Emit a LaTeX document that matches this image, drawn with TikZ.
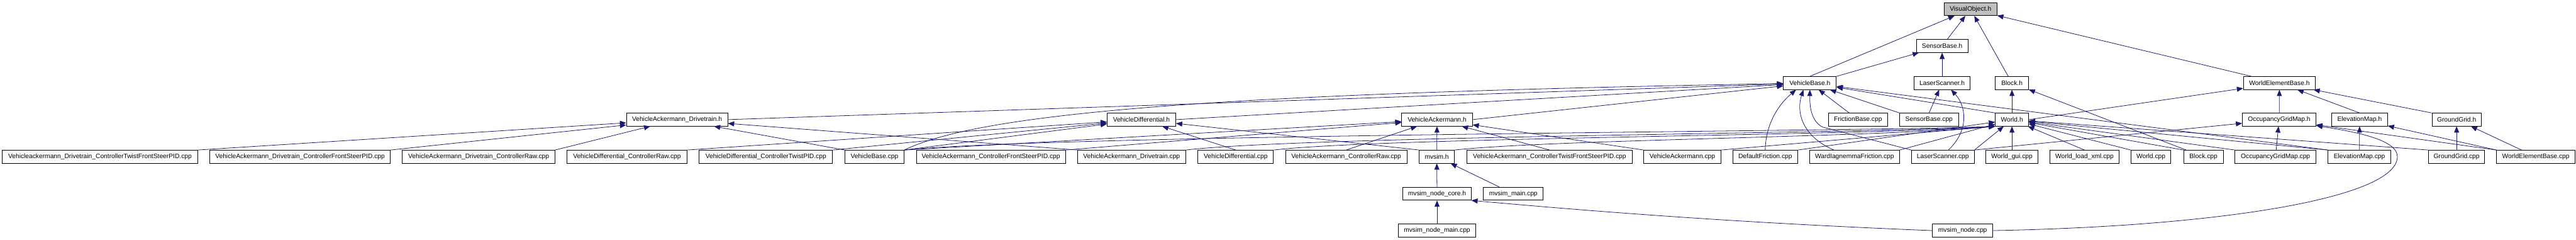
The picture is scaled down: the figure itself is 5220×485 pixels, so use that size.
\documentclass[tikz,border=0pt]{standalone}
\usepackage{fontspec}
\setmainfont{Liberation Sans}
\usepackage{xcolor}
\usepackage{tikz}
\usetikzlibrary{positioning, arrows.meta, calc}
\definecolor{edgeblue}{HTML}{191970}
\definecolor{curgray}{HTML}{BFBFBF}

\tikzset{
  file/.style={draw=black, fill=white, line width=0.8pt, inner sep=0pt,
    minimum height=19.5pt, font=\fontsize{9.8}{12}\selectfont},
  bw/.style={minimum width=#1*0.75pt},
  inc/.style={draw=edgeblue, line width=0.75pt,
    -{Triangle[length=9.5pt, width=7.5pt]}}
}

\begin{document}
\begin{tikzpicture}[x=0.75pt, y=-0.75pt]
  \useasboundingbox (0,0) rectangle (5220,485);

  \node[file, fill=curgray, bw=107] (vo) at (3993,18.5) {VisualObject.h};
  \node[file, bw=105] (sb) at (3935.5,93) {SensorBase.h};

  \node[file, bw=107] (vb) at (3667.5,168) {VehicleBase.h};
  \node[file, bw=113] (ls) at (3935.5,168) {LaserScanner.h};
  \node[file, bw=67] (blk) at (4077,168) {Block.h};
  \node[file, bw=146] (web) at (4619,168) {WorldElementBase.h};

  \node[file, bw=205] (vad) at (1372,242) {VehicleAckermann\_Drivetrain.h};
  \node[file, bw=139] (vd) at (2313,242) {VehicleDifferential.h};
  \node[file, bw=143] (va) at (2912,242) {VehicleAckermann.h};
  \node[file, bw=120] (fbc) at (3765,242) {FrictionBase.cpp};
  \node[file, bw=119] (sbc) at (3909,242) {SensorBase.cpp};
  \node[file, bw=67] (wh) at (4077,242) {World.h};
  \node[file, bw=149] (ogm) at (4618.5,242) {OccupancyGridMap.h};
  \node[file, bw=113] (em) at (4781.5,242) {ElevationMap.h};
  \node[file, bw=100] (gg) at (4978,242) {GroundGrid.h};

  \node[file, bw=396] (c1) at (202.6,317) {Vehicleackermann\_Drivetrain\_ControllerTwistFrontSteerPID.cpp};
  \node[file, bw=366] (c2) at (608,317) {VehicleAckermann\_Drivetrain\_ControllerFrontSteerPID.cpp};
  \node[file, bw=309] (c3) at (970,317) {VehicleAckermann\_Drivetrain\_ControllerRaw.cpp};
  \node[file, bw=243] (c4) at (1270.5,317) {VehicleDifferential\_ControllerRaw.cpp};
  \node[file, bw=270] (c5) at (1552,317) {VehicleDifferential\_ControllerTwistPID.cpp};
  \node[file, bw=120] (c6) at (1772,317) {VehicleBase.cpp};
  \node[file, bw=302] (c7) at (2008,317) {VehicleAckermann\_ControllerFrontSteerPID.cpp};
  \node[file, bw=219] (c8) at (2293,317) {VehicleAckermann\_Drivetrain.cpp};
  \node[file, bw=153] (c9) at (2504,317) {VehicleDifferential.cpp};
  \node[file, bw=246] (c10) at (2728,317) {VehicleAckermann\_ControllerRaw.cpp};
  \node[file, bw=71] (mv) at (2911.5,317) {mvsim.h};
  \node[file, bw=335] (c11) at (3140,317) {VehicleAckermann\_ControllerTwistFrontSteerPID.cpp};
  \node[file, bw=156] (c12) at (3409,317) {VehicleAckermann.cpp};
  \node[file, bw=132] (c13) at (3577,317) {DefaultFriction.cpp};
  \node[file, bw=182] (c14) at (3758,317) {WardIagnemmaFriction.cpp};
  \node[file, bw=127] (c15) at (3937,317) {LaserScanner.cpp};
  \node[file, bw=106] (c16) at (4077,317) {World\_gui.cpp};
  \node[file, bw=140] (c17) at (4224,317) {World\_load\_xml.cpp};
  \node[file, bw=81] (c18) at (4358.5,317) {World.cpp};
  \node[file, bw=80] (c19) at (4465,317) {Block.cpp};
  \node[file, bw=164] (c20) at (4611,317) {OccupancyGridMap.cpp};
  \node[file, bw=127] (c21) at (4781,317) {ElevationMap.cpp};
  \node[file, bw=114] (c22) at (4978,317) {GroundGrid.cpp};
  \node[file, bw=159] (c23) at (5138.5,317) {WorldElementBase.cpp};

  \node[file, bw=138] (nc) at (2912,392) {mvsim\_node\_core.h};
  \node[file, bw=121] (mm) at (3066.5,392) {mvsim\_main.cpp};
  \node[file, bw=156] (nm) at (2912,466.5) {mvsim\_node\_main.cpp};
  \node[file, bw=122] (nd) at (3977,466.5) {mvsim\_node.cpp};

  % VisualObject.h and the headers above the vehicles
  \draw[inc] (vb.north) -- (vo);
  \foreach \s in {sb, blk, web} \draw[inc] (\s) -- (vo);
  \draw[inc] (vb.north east) -- (sb);
  \draw[inc] (ls) -- (sb);

  \foreach \s in {vad, vd, va} \draw[inc] (\s.east) -- (vb);
  \draw[inc] (c6.north east) .. controls (2000,222) and (2550,188) .. (vb);
  \draw[inc] (fbc) -- (vb);
  \draw[inc] (sbc.north west) -- (vb);
  \draw[inc] (wh.north west) -- (vb);
  \draw[inc] (c21.north west) -- (vb);
  \draw[inc] (c13.north) .. controls (3578,255) and (3600,215) .. ($(vb.south west)+(26,0)$);
  \draw[inc] ($(c14.north)+(-42,0)$) .. controls (3650,275) and (3640,225) .. ($(vb.south west)+(41,0)$);
  \draw[inc] (c15.north west) -- (3693,257) .. controls (3670,245) and (3667,215) .. (vb.south);

  \draw[inc] (sbc.north) -- (ls);
  \draw[inc] ($(c15.north)+(11,0)$) .. controls (3990,265) and (3985,215) .. ($(ls.south)+(18,0)$);

  \draw[inc] (wh) -- (blk);
  \draw[inc] (c19) -- (blk);

  % vehicle headers
  \foreach \s in {c1, c2, c3} \draw[inc] (\s.north east) -- (vad);
  \foreach \s in {c6, c8} \draw[inc] (\s.north west) -- (vad);

  \foreach \s in {c4, c5, c6} \draw[inc] (\s.north east) -- (vd);
  \draw[inc] (c9.north) -- (vd);
  \draw[inc] (mv.north west) -- (vd);

  \foreach \s in {c6, c7} \draw[inc] (\s.north east) -- (va);
  \foreach \s in {c10, c11} \draw[inc] (\s.north) -- (va);
  \draw[inc] (mv) -- (va);
  \draw[inc] (c12.north west) -- (va);

  % World.h
  \draw[inc] (c6.north east) .. controls (2150,272) and (3800,266) .. (wh.south west);
  \draw[inc] (c8.north east) .. controls (2650,275) and (3800,270) .. (wh.south west);
  \draw[inc] (c9.north east) .. controls (2800,278) and (3800,274) .. (wh.south west);
  \draw[inc] (mv.north east) .. controls (3150,282) and (3800,278) .. (wh.south west);
  \draw[inc] (c12.north east) -- (wh.south west);
  \foreach \s in {c13, c14, c15} \draw[inc] (\s.north east) -- (wh);
  \foreach \s in {c16, c17} \draw[inc] (\s.north) -- (wh);
  \foreach \s in {c18, c19, c20, c21, c22} \draw[inc] (\s.north west) -- (wh);

  % world elements
  \draw[inc] (wh.east) -- (web);
  \draw[inc] (ogm) -- (web);
  \draw[inc] (em.north) -- (web);
  \draw[inc] (gg.north west) -- (web);

  \draw[inc] (c15.north east) -- (ogm);
  \draw[inc] (c20) -- (ogm);
  \draw[inc] (c23.north west) -- (ogm);
  \draw[inc] (nd.east) .. controls (4500,458) and (4858,400) .. (4858,317)
    .. controls (4858,280) and (4760,265) .. (ogm);
  \draw[inc] (c21) -- (em);
  \draw[inc] (c23.north west) -- (em);
  \draw[inc] (c22) -- (gg);
  \draw[inc] (c23) -- (gg);

  % mvsim
  \draw[inc] (nc) -- (mv);
  \draw[inc] (mm) -- (mv);
  \draw[inc] (nm) -- (nc);
  \draw[inc] (nd.west) .. controls (3500,450) and (3200,425) .. (nc.south east);
\end{tikzpicture}
\end{document}
